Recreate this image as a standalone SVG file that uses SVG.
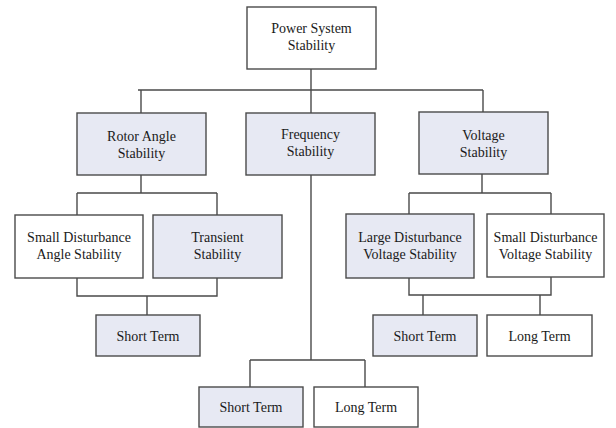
<svg xmlns="http://www.w3.org/2000/svg" width="616" height="428" viewBox="0 0 616 428">
<style>
.box{stroke:#4a4a4a;stroke-width:1.4;fill:#ffffff}
.sh{fill:#e7e9f3}
.t{font-family:"Liberation Serif","Times New Roman",serif;font-size:14px;fill:#1a1a1a;text-anchor:middle}
.c{stroke:#4a4a4a;stroke-width:1.4;fill:none}
</style>
<rect width="616" height="428" fill="#ffffff"/>
<g id="connectors">
<path class="c" d="M311 69V90M138 90H483M141 90V113M311 90V113M483 90V112"/>
<path class="c" d="M141 175V193M77 193H217M77 193V215M217 193V215"/>
<path class="c" d="M77 278V296H217V278M147 296V315"/>
<path class="c" d="M311 175V360M250 360H365M250 360V387M365 360V387"/>
<path class="c" d="M482 174V193M409 193H551M409 193V214M551 193V214"/>
<path class="c" d="M409 278V295H551V277M423 295V315M540 295V315"/>
</g>
<g id="power-system-stability"><rect class="box" x="247" y="7" width="129" height="62"/><text class="t" x="311.5" y="33">Power System</text><text class="t" x="311.5" y="50">Stability</text></g>
<g id="rotor-angle-stability"><rect class="box sh" x="77" y="113" width="129" height="62"/><text class="t" x="141.5" y="141">Rotor Angle</text><text class="t" x="141.5" y="158">Stability</text></g>
<g id="frequency-stability"><rect class="box sh" x="246" y="113" width="129" height="62"/><text class="t" x="310.5" y="139">Frequency</text><text class="t" x="310.5" y="156">Stability</text></g>
<g id="voltage-stability"><rect class="box sh" x="419" y="112" width="129" height="62"/><text class="t" x="483.5" y="140">Voltage</text><text class="t" x="483.5" y="157">Stability</text></g>
<g id="small-disturbance-angle"><rect class="box" x="15" y="215" width="128" height="63"/><text class="t" x="79" y="242">Small Disturbance</text><text class="t" x="79" y="259">Angle Stability</text></g>
<g id="transient-stability"><rect class="box sh" x="153" y="215" width="129" height="63"/><text class="t" x="217.5" y="242">Transient</text><text class="t" x="217.5" y="259">Stability</text></g>
<g id="large-disturbance-voltage"><rect class="box sh" x="346" y="214" width="128" height="64"/><text class="t" x="410" y="242">Large Disturbance</text><text class="t" x="410" y="259">Voltage Stability</text></g>
<g id="small-disturbance-voltage"><rect class="box" x="487" y="214" width="117" height="63"/><text class="t" x="545.5" y="242">Small Disturbance</text><text class="t" x="545.5" y="259">Voltage Stability</text></g>
<g id="angle-short-term"><rect class="box sh" x="96" y="315" width="104" height="41"/><text class="t" x="148" y="341">Short Term</text></g>
<g id="voltage-short-term"><rect class="box sh" x="373" y="315" width="104" height="41"/><text class="t" x="425" y="341">Short Term</text></g>
<g id="voltage-long-term"><rect class="box" x="487" y="315" width="105" height="41"/><text class="t" x="539.5" y="341">Long Term</text></g>
<g id="frequency-short-term"><rect class="box sh" x="199" y="387" width="104" height="40"/><text class="t" x="251" y="412">Short Term</text></g>
<g id="frequency-long-term"><rect class="box" x="314" y="387" width="104" height="40"/><text class="t" x="366" y="412">Long Term</text></g>
</svg>
